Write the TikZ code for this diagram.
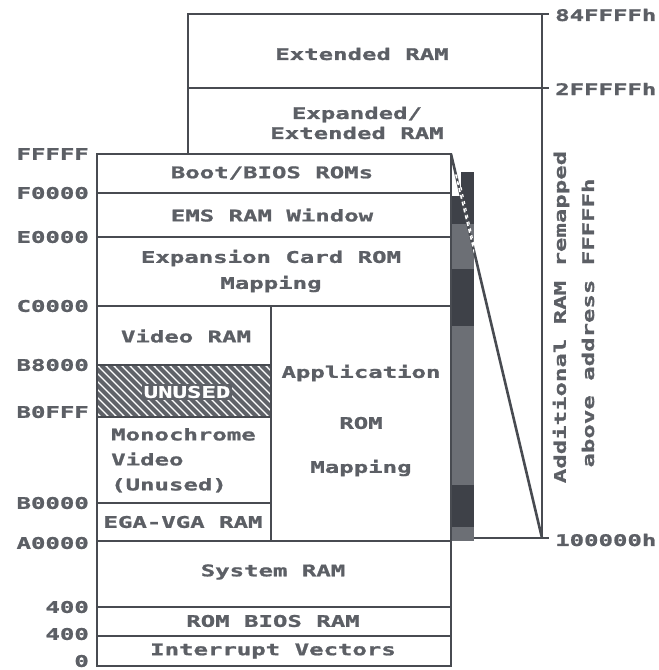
\documentclass[tikz,border=0pt]{standalone}
\usepackage{fontspec}
\newfontfamily\dotfont{DejaVu Sans Mono}[FakeStretch=1.5,FakeBold=1.2]
\definecolor{linec}{RGB}{72,75,81}
\definecolor{textc}{RGB}{92,95,101}
\definecolor{darkc}{RGB}{62,65,72}
\definecolor{midc}{RGB}{108,111,117}
\definecolor{hatchc}{RGB}{95,98,104}
\tikzset{
  memline/.style={draw=linec, line width=2.6pt},
  lbl/.style={text=textc, font=\dotfont\bfseries\fontsize{16}{24}\selectfont, inner sep=0pt, align=center},
  addr/.style={lbl, anchor=east},
  raddr/.style={lbl, anchor=west},
  rot/.style={lbl, rotate=90},
}
\begin{document}
\begin{tikzpicture}[x=1pt,y=-1pt]
\useasboundingbox (0,0) rectangle (659,670);
\fill[white] (0,0) rectangle (659,670);

% coordinates
\coordinate (fTL) at (97,154);
\coordinate (fTR) at (451,154);
\coordinate (bBR) at (542,538);

% back box
\draw[memline] (188,154) -- (188,14) -- (542,14) -- (542,538) -- (451,538);
\draw[memline] (188,88) -- (542,88);
\draw[memline] (542,14) -- (549,14);
\draw[memline] (542,88) -- (549,88);
\draw[memline] (542,538) -- (549,538);

% strip
\fill[darkc] (461,172) rectangle (474,224);
\fill[darkc] (452,196) rectangle (474,224);
\fill[midc] (452,224) rectangle (474,269);
\fill[darkc] (452,269) rectangle (474,326);
\fill[midc] (452,326) rectangle (474,485);
\fill[darkc] (452,485) rectangle (474,527);
\fill[midc] (452,527) rectangle (474,541);

% diagonal remap line
\draw[draw=linec, line width=2.6pt] (fTR) -- (bBR);
\begin{scope}
  \clip (452,172) rectangle (474,300);
  \draw[white, line width=1.6pt, dash pattern=on 4pt off 3pt] (fTR) -- (bBR);
  \draw[white, line width=1.2pt, dash pattern=on 3pt off 4pt] (455,160) -- (479,268);
\end{scope}

% hatch for UNUSED
\begin{scope}
  \clip (97,365) rectangle (271,417);
  \fill[white] (97,365) rectangle (271,417);
  \foreach \x in {37,45,...,277} {
    \draw[hatchc, line width=4pt] (\x,365) -- ({\x+52},417);
  }
\end{scope}

% front box
\draw[memline] (97,154) rectangle (451,541);
\draw[memline] (97,193) -- (451,193);
\draw[memline] (97,237) -- (451,237);
\draw[memline] (97,306) -- (451,306);
\draw[memline] (271,306) -- (271,541);
\draw[memline] (97,365) -- (271,365);
\draw[memline] (97,417) -- (271,417);
\draw[memline] (97,503) -- (271,503);
% lower box
\draw[memline] (97,541) rectangle (451,666);
\draw[memline] (97,607) -- (451,607);
\draw[memline] (97,636) -- (451,636);

% back box texts
\node[lbl] (ext) at (362,54) {Extended RAM};
\node[lbl] (expext) at (357,123) {Expanded/\\[-4pt]Extended RAM};

% front texts
\node[lbl] (boot) at (272,173) {Boot/BIOS ROMs};
\node[lbl] (ems) at (272,215) {EMS RAM Window};
\node[lbl] (expcard) at (271,271) {Expansion Card ROM\\[2pt]Mapping};
\node[lbl] (vram) at (186,336) {Video RAM};
\node[lbl, fill=hatchc, text=white, inner sep=2pt] (unused) at (187,392) {UNUSED};
\node[lbl, anchor=north west, align=left] (mono) at (111,428) {Monochrome\\[1pt]Video\\[1pt](Unused)};
\node[lbl] (ega) at (183,522) {EGA-VGA RAM};
\node[lbl] (app1) at (361,373) {Application};
\node[lbl] (app2) at (361,423) {ROM};
\node[lbl] (app3) at (361,468) {Mapping};
\node[lbl] (sys) at (273,572) {System RAM};
\node[lbl] (rbios) at (273,621) {ROM BIOS RAM};
\node[lbl] (ivec) at (273,651) {Interrupt Vectors};

% left addresses
\node[addr] (aFFFFF) at (89,154) {FFFFF};
\node[addr] (aF0000) at (89,193) {F0000};
\node[addr] (aE0000) at (89,237) {E0000};
\node[addr] (aC0000) at (89,306) {C0000};
\node[addr] (aB8000) at (89,365) {B8000};
\node[addr] (aB0FFF) at (89,412) {B0FFF};
\node[addr] (aB0000) at (89,503) {B0000};
\node[addr] (aA0000) at (89,543) {A0000};
\node[addr] (a500) at (89,607) {400};
\node[addr] (a400) at (89,634) {400};
\node[addr] (a0) at (89,661) {0};

% right addresses
\node[raddr] (r84) at (555,15) {84FFFFh};
\node[raddr] (r2F) at (555,89) {2FFFFFh};
\node[raddr] (r10) at (555,540) {100000h};

% rotated note
\node[rot] (note1) at (561,317) {Additional RAM remapped};
\node[rot] (note2) at (588,323) {above address FFFFFh};
\end{tikzpicture}
\end{document}
